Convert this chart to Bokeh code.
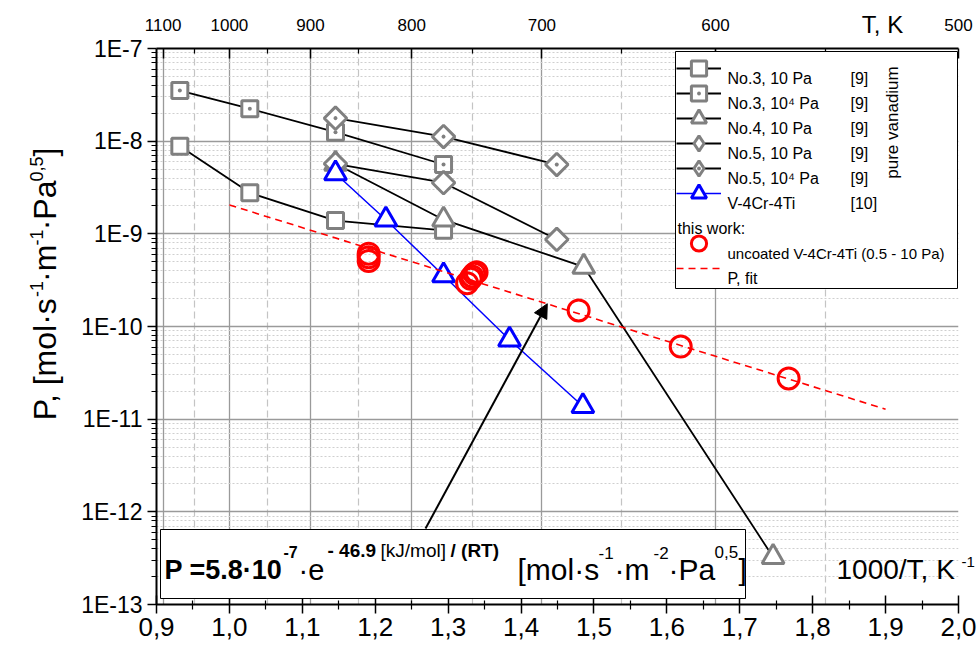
import math
from bokeh.plotting import figure
from bokeh.models import (Range1d, LinearAxis, FixedTicker, CustomJSTickFormatter,
                          Label, BoxAnnotation, Legend, LegendItem, Arrow, NormalHead)
from bokeh.embed import file_html
from bokeh.resources import INLINE

# ---------------- data (1000/T in 1/K, P in mol s^-1 m^-1 Pa^-0.5) ----------------
no3_10_x = [0.932, 1.028, 1.1455, 1.2937]
no3_10_p = [8.8e-9, 2.77e-9, 1.39e-9, 1.09e-9]
no3_1e4_x = [0.932, 1.028, 1.1455, 1.2937]
no3_1e4_p = [3.52e-8, 2.24e-8, 1.25e-8, 5.6e-9]
no4_x = [1.1455, 1.2937, 1.486, 1.7457]
no4_p = [5.7e-9, 1.42e-9, 4.41e-10, 3.25e-13]
no5_10_x = [1.1455, 1.2937, 1.449]
no5_10_p = [5.7e-9, 3.56e-9, 8.7e-10]
no5_1e4_x = [1.1455, 1.2937, 1.449]
no5_1e4_p = [1.77e-8, 1.12e-8, 5.6e-9]
v4cr4ti_x = [1.1455, 1.2146, 1.2937, 1.3842, 1.4848]
v4cr4ti_p = [4.48e-9, 1.42e-9, 3.55e-10, 7.2e-11, 1.38e-11]
this_x = [1.191, 1.191, 1.191, 1.326, 1.331, 1.333, 1.336, 1.339, 1.479, 1.619, 1.767]
this_p = [6.1e-10, 5.6e-10, 5.1e-10, 2.93e-10, 3.27e-10, 3.47e-10, 3.71e-10, 3.86e-10,
          1.49e-10, 6.08e-11, 2.75e-11]
fit_x = [1.0, 1.9]
fit_p = [2.05e-9, 1.28e-11]
arrow_x = [1.269, 1.436]
arrow_p = [6.6e-13, 1.76e-10]

# ---------------- ticks & texts ----------------
x_ticks = [0.9, 1.0, 1.1, 1.2, 1.3, 1.4, 1.5, 1.6, 1.7, 1.8, 1.9, 2.0]
x_minor = [0.95, 1.05, 1.15, 1.25, 1.35, 1.45, 1.55, 1.65, 1.75, 1.85, 1.95]
t_major = [1100, 1000, 900, 800, 700, 600, 500]
t_minor = [1050, 950, 850, 750, 650, 550]
y_decades = [-13, -12, -11, -10, -9, -8, -7]

legend_texts = ["No.3, 10 Pa", "No.3, 10\u2074 Pa", "No.4, 10 Pa", "No.5, 10 Pa",
                "No.5, 10\u2074 Pa", "V-4Cr-4Ti", "this work:",
                "uncoated V-4Cr-4Ti (0.5 - 10 Pa)", "P, fit"]
legend_refs = ["[9]", "[9]", "[9]", "[9]", "[9]", "[10]"]

# ---------------- layout ----------------
W, H = 980, 654
FL, FR, FT, FB = 156, 958, 48, 604
DEC = (FB - FT) / 6.0
SANS = "Liberation Sans"
GREY = "#808080"


def sx(X):
    return X - FL


def sy(Y):
    return FB - Y


def yval(Y):
    # pixel row -> value on the log axis (used only to position text pieces)
    return 10.0 ** (-7 - (Y - FT) / DEC)


def xval(X):
    return 0.9 + (X - FL) / (FR - FL) * 1.1


p = figure(width=W, height=H, output_backend="svg", toolbar_location=None,
           x_range=Range1d(0.9, 2.0), y_range=Range1d(1e-13, 1e-7), y_axis_type="log",
           min_border_left=FL, min_border_right=W - FR, min_border_top=FT,
           min_border_bottom=H - FB)
p.outline_line_color = None
p.background_fill_color = "white"
p.border_fill_color = "white"

# grids
p.xgrid.ticker = FixedTicker(ticks=[1000.0 / t for t in t_major],
                             minor_ticks=[1000.0 / t for t in t_minor])
p.xgrid.grid_line_color = "#9a9a9a"
p.xgrid.grid_line_width = 1.3
p.xgrid.minor_grid_line_color = "#c4c4c4"
p.xgrid.minor_grid_line_width = 1.2
p.xgrid.minor_grid_line_dash = "7 4"

y_minor = [m * 10.0 ** k for k in y_decades[:-1] for m in range(2, 10)]
p.ygrid.ticker = FixedTicker(ticks=[10.0 ** k for k in y_decades], minor_ticks=y_minor)
p.ygrid.grid_line_color = "#9a9a9a"
p.ygrid.grid_line_width = 1.3
p.ygrid.minor_grid_line_color = "#cfcfcf"
p.ygrid.minor_grid_line_width = 1
p.ygrid.minor_grid_line_dash = "2 2"

# bottom axis
ax = p.xaxis[0]
ax.ticker = FixedTicker(ticks=x_ticks, minor_ticks=x_minor)
ax.formatter = CustomJSTickFormatter(code="return tick.toFixed(1).replace('.', ',');")
ax.major_label_text_font = SANS
ax.major_label_text_font_size = "26px"
ax.major_label_text_color = "black"
ax.major_label_standoff = 4
ax.axis_line_width = 2
ax.major_tick_line_width = 1.5
ax.minor_tick_line_width = 1.2
ax.major_tick_in = 9
ax.major_tick_out = 9
ax.minor_tick_in = 4
ax.minor_tick_out = 5

# left axis
ay = p.yaxis[0]
ay.ticker = FixedTicker(ticks=[10.0 ** k for k in y_decades], minor_ticks=y_minor)
ay.formatter = CustomJSTickFormatter(code="return '1E' + Math.round(Math.log10(tick));")
ay.major_label_text_font = SANS
ay.major_label_text_font_size = "23px"
ay.major_label_text_color = "black"
ay.major_label_standoff = 5
ay.axis_line_width = 2
ay.major_tick_line_width = 1.5
ay.minor_tick_line_width = 1.2
ay.major_tick_in = 0
ay.major_tick_out = 9
ay.minor_tick_in = 0
ay.minor_tick_out = 5

# top axis: temperature
at = LinearAxis(ticker=FixedTicker(ticks=[1000.0 / t for t in t_major],
                                   minor_ticks=[1000.0 / t for t in t_minor]),
                formatter=CustomJSTickFormatter(code="return String(Math.round(1000 / tick));"))
at.major_label_text_font = SANS
at.major_label_text_font_size = "17px"
at.major_label_text_color = "black"
at.major_label_standoff = 18
at.axis_line_width = 2
at.major_tick_line_width = 1.5
at.minor_tick_line_width = 1.2
at.major_tick_in = 10
at.major_tick_out = 0
at.minor_tick_in = 5
at.minor_tick_out = 0
p.add_layout(at, "above")


def text_axis(side, positions, labels, size, standoff, orientation="horizontal"):
    """An axis without line or ticks, stacked in a side panel, used only for texts."""
    fmt = CustomJSTickFormatter(args=dict(pos=positions, labels=labels,
                                          logy=(side in ("left", "right"))),
                                code="""
        let best = 0, bd = Infinity;
        for (let i = 0; i < pos.length; i++) {
            const d = logy ? Math.abs(Math.log10(pos[i]) - Math.log10(tick)) : Math.abs(pos[i] - tick);
            if (d < bd) { bd = d; best = i; }
        }
        return labels[best];""")
    a = LinearAxis(ticker=FixedTicker(ticks=positions), formatter=fmt)
    a.axis_line_color = None
    a.major_tick_line_color = None
    a.minor_tick_line_color = None
    a.major_tick_in = 0
    a.major_tick_out = 0
    a.minor_tick_in = 0
    a.minor_tick_out = 0
    a.major_label_standoff = standoff
    a.major_label_text_font = SANS
    a.major_label_text_font_size = f"{size}px"
    a.major_label_text_color = "black"
    a.major_label_orientation = orientation
    p.add_layout(a, side)
    return a


# "T, K" beside the temperature labels
text_axis("above", [xval(882)], ["T, K"], 24, -22)

# y axis title built from pieces (normal text and superscripts)
AW = {' ': 278, ',': 278, '.': 278, '\u00b7': 278, '[': 278, ']': 278, '-': 333,
      'P': 667, 'm': 833, 'o': 556, 'l': 222, 's': 500, 'a': 556}


def tw(t, size):
    return sum(AW.get(c, 556) for c in t) * size / 1000.0


ypieces = [("P, [mol\u00b7s", 32, 0), ("-1", 18, 1), ("\u00b7m", 32, 0), ("-1", 18, 1),
           ("\u00b7Pa", 32, 0), ("0,5", 18, 1), ("]", 32, 0)]
Ycur = 421.0
main_pos, main_lab, sup_pos, sup_lab = [], [], [], []
for t, s, k in ypieces:
    w = tw(t, s)
    c = Ycur - w / 2.0
    if k == 0:
        main_pos.append(yval(c))
        main_lab.append(t)
    else:
        sup_pos.append(yval(c))
        sup_lab.append(t)
    Ycur -= w
text_axis("left", main_pos, main_lab, 32, 15, "vertical")
text_axis("left", sup_pos, sup_lab, 18, -19, "vertical")

# superscript of K^-1 (outside the frame on the right)
text_axis("right", [yval(561)], ["-1"], 15, 3)

# ---------------- series ----------------
l3a = p.line(no3_10_x, no3_10_p, line_color="black", line_width=1.8)
l3b = p.line(no3_1e4_x, no3_1e4_p, line_color="black", line_width=1.8)
l4 = p.line(no4_x, no4_p, line_color="black", line_width=1.8)
l5a = p.line(no5_10_x, no5_10_p, line_color="black", line_width=1.8)
l5b = p.line(no5_1e4_x, no5_1e4_p, line_color="black", line_width=1.8)
lv = p.line(v4cr4ti_x, v4cr4ti_p, line_color="blue", line_width=1.5)

m3a = p.scatter(no3_10_x, no3_10_p, marker="square", size=16, line_color=GREY,
                line_width=3, fill_color="white")
m3b = p.scatter(no3_1e4_x, no3_1e4_p, marker="square_dot", size=16, line_color=GREY,
                line_width=3, fill_color="white")
m4 = p.scatter(no4_x, no4_p, marker="triangle", size=22, line_color=GREY,
               line_width=3, fill_color="white")
# diamond glyphs used for the legend samples; covered by the rotated squares below
d5a = p.scatter(no5_10_x, no5_10_p, marker="diamond", size=16, line_color=GREY,
                line_width=3, fill_color="white")
d5b = p.scatter(no5_1e4_x, no5_1e4_p, marker="diamond_dot", size=16, line_color=GREY,
                line_width=3, fill_color="white")
m5a = p.scatter(no5_10_x, no5_10_p, marker="square", angle=math.pi / 4, size=16,
                line_color=GREY, line_width=3, fill_color="white")
m5b = p.scatter(no5_1e4_x, no5_1e4_p, marker="square_dot", angle=math.pi / 4, size=16,
                line_color=GREY, line_width=3, fill_color="white")
mv = p.scatter(v4cr4ti_x, v4cr4ti_p, marker="triangle", size=22, line_color="blue",
               line_width=3, fill_color="white")
mr = p.scatter(this_x, this_p, marker="circle", size=21, line_color="red",
               line_width=3, fill_color=None)
lfit = p.line(fit_x, fit_p, line_color="red", line_width=1.6, line_dash="7 5")
blank = p.scatter([], [], marker="circle", size=1, line_alpha=0, fill_alpha=0)

# arrow from formula box to fit line
p.add_layout(Arrow(end=NormalHead(size=14, fill_color="black", line_color="black"),
                   x_start=arrow_x[0], y_start=arrow_p[0],
                   x_end=arrow_x[1], y_end=arrow_p[1],
                   line_color="black", line_width=2))

# ---------------- legend ----------------
p.add_layout(BoxAnnotation(left=sx(675), right=sx(957), top=sy(51), bottom=sy(288),
                           left_units="screen", right_units="screen",
                           top_units="screen", bottom_units="screen",
                           fill_color="white", fill_alpha=1.0,
                           line_color="black", line_width=1, line_alpha=1.0))


def lab(text, X, Y, size, style="normal", align="left", angle=0.0):
    p.add_layout(Label(x=sx(X), y=sy(Y), x_units="screen", y_units="screen", text=text,
                       text_font=SANS, text_font_size=f"{size}px", text_font_style=style,
                       text_align=align, text_baseline="middle", angle=angle,
                       text_color="black"))


# legend texts sit a little below their samples, as in the original
row_y = [78, 103, 128, 153, 178, 203, 228, 253, 278]
row_x = [727, 727, 727, 727, 727, 727, 677, 727, 727]
for t, X, Y in zip(legend_texts, row_x, row_y):
    lab(t, X, Y, 15 if len(t) > 20 else 16)
for i, r in enumerate(legend_refs):
    lab(r, 850, row_y[i], 16)
lab("pure vanadium", 892, 122, 17, align="center", angle=math.pi / 2)

common = dict(padding=0, margin=0, spacing=12, glyph_width=45, glyph_height=38,
              label_height=38, label_width=10, label_standoff=5, label_text_font=SANS,
              label_text_font_size="16px", border_line_color=None,
              background_fill_alpha=0.0)
leg_a = Legend(items=[LegendItem(label=" ", renderers=r) for r in
                      [[l3a, m3a], [l4, m4], [l5b, d5b], [blank], [lfit]]],
               location=(sx(676), sy(49 + 5 * 38 + 4 * 12)), **common)
leg_b = Legend(items=[LegendItem(label=" ", renderers=r) for r in
                      [[l3b, m3b], [l5a, d5a], [lv, mv], [mr]]],
               location=(sx(676), sy(74 + 4 * 38 + 3 * 12)), **common)
p.add_layout(leg_a, "center")
p.add_layout(leg_b, "center")

lab("1000/T, K", 836, 569, 28)

# formula box
p.add_layout(BoxAnnotation(left=sx(160), right=sx(745), top=sy(529), bottom=sy(598),
                           left_units="screen", right_units="screen",
                           top_units="screen", bottom_units="screen",
                           fill_color="white", fill_alpha=1.0,
                           line_color="black", line_width=1, line_alpha=1.0))
fpieces = [("P =5.8\u00b710", 164, 569, 27, "bold"),
           ("-7", 283, 551, 16, "bold"),
           ("\u00b7e", 298, 569, 29, "normal"),
           ("- 46.9", 327, 550, 19, "bold"),
           ("[kJ/mol]", 380, 550, 19, "normal"),
           ("/ (RT)", 450, 550, 19, "bold"),
           ("[mol\u00b7s", 517, 569, 30, "normal"),
           ("-1", 598, 552, 17, "normal"),
           ("\u00b7m", 614, 569, 30, "normal"),
           ("-2", 653, 552, 17, "normal"),
           ("\u00b7Pa", 668, 569, 30, "normal"),
           ("0,5", 714, 551, 17, "normal"),
           ("]", 738, 569, 30, "normal")]
for t, X, Y, s, st in fpieces:
    lab(t, X, Y, s, style=st)

open("out.html", "w").write(file_html(p, INLINE))
